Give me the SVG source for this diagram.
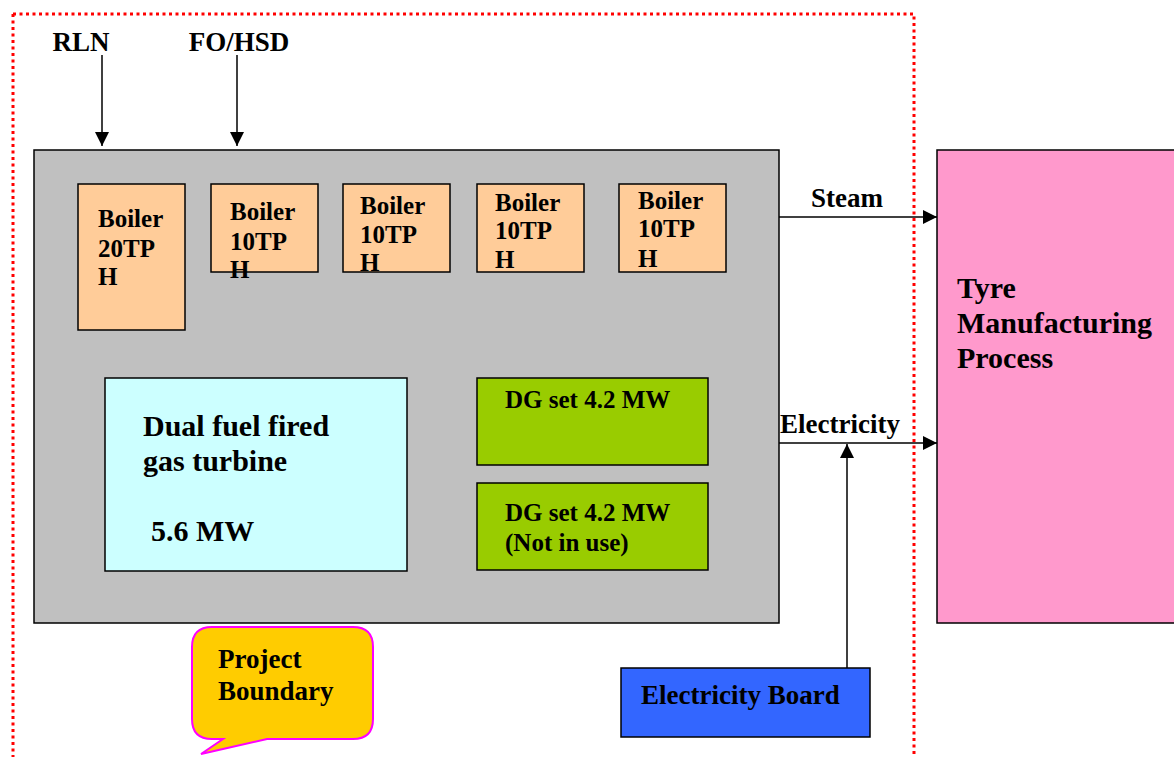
<svg xmlns="http://www.w3.org/2000/svg" width="1174" height="757" viewBox="0 0 1174 757">
<defs>
<style>
text{font-family:"Liberation Serif","Times New Roman",serif;font-weight:bold;fill:#000}
.box{stroke:#000;stroke-width:1.5}
.boiler{fill:#ffcc99}
.dg{fill:#99cc00}
.conn{stroke:#000;stroke-width:1.5;fill:none}
.t25{font-size:25px}
.t27{font-size:27px}
.t30{font-size:30px}
</style>
<marker id="ah" viewBox="0 0 10 10" refX="10" refY="5" markerWidth="14" markerHeight="14" markerUnits="userSpaceOnUse" orient="auto">
<path d="M0,0 L10,5 L0,10 Z" fill="#000"/>
</marker>
</defs>
<rect width="1174" height="757" fill="#fff"/>
<path d="M13,14 H914 V757 M13,14 V757" fill="none" stroke="#ff0000" stroke-width="3" stroke-dasharray="3 3.5"/>
<g id="plant">
<rect class="box" x="34" y="150" width="745" height="473" fill="#c0c0c0"/>
</g>
<g id="boiler1"><rect class="box boiler" x="78" y="184" width="107" height="146"/>
<text class="t25" x="98" y="227">Boiler</text><text class="t25" x="98" y="257">20TP</text><text class="t25" x="98" y="285">H</text></g>
<g id="boiler2"><rect class="box boiler" x="211" y="184" width="107" height="88"/>
<text class="t25" x="230" y="220">Boiler</text><text class="t25" x="230" y="250">10TP</text><text class="t25" x="230" y="278">H</text></g>
<g id="boiler3"><rect class="box boiler" x="343" y="184" width="107" height="88"/>
<text class="t25" x="360" y="214">Boiler</text><text class="t25" x="360" y="243">10TP</text><text class="t25" x="360" y="271">H</text></g>
<g id="boiler4"><rect class="box boiler" x="477" y="184" width="107" height="88"/>
<text class="t25" x="495" y="211">Boiler</text><text class="t25" x="495" y="239">10TP</text><text class="t25" x="495" y="268">H</text></g>
<g id="boiler5"><rect class="box boiler" x="619" y="184" width="107" height="88"/>
<text class="t25" x="638" y="209">Boiler</text><text class="t25" x="638" y="237">10TP</text><text class="t25" x="638" y="267">H</text></g>
<g id="gasturbine"><rect class="box" x="105" y="378" width="302" height="193" fill="#ccffff"/>
<text class="t30" x="143" y="436">Dual fuel fired</text><text class="t30" x="143" y="471">gas turbine</text><text class="t30" x="151" y="541">5.6 MW</text></g>
<g id="dg1"><rect class="box dg" x="477" y="378" width="231" height="87"/>
<text class="t25" x="505" y="408">DG set 4.2 MW</text></g>
<g id="dg2"><rect class="box dg" x="477" y="483" width="231" height="87"/>
<text class="t25" x="505" y="521">DG set 4.2 MW</text><text class="t25" x="505" y="551">(Not in use)</text></g>
<g id="tyre"><rect class="box" x="937" y="150" width="250" height="473" fill="#ff99cc"/>
<text class="t30" x="957" y="298">Tyre</text><text class="t30" x="957" y="333">Manufacturing</text><text class="t30" x="957" y="368">Process</text></g>
<g id="eboard"><rect class="box" x="621" y="668" width="249" height="69" fill="#3366ff"/>
<text class="t27" x="641" y="704">Electricity Board</text></g>
<g id="callout"><path d="M212,627 H353 Q373,627 373,647 V719 Q373,739 353,739 H267 L201,754 L223,739 H212 Q192,739 192,719 V647 Q192,627 212,627 Z" fill="#ffcc00" stroke="#ff00ff" stroke-width="2"/>
<text class="t27" x="218" y="668">Project</text><text class="t27" x="218" y="700">Boundary</text></g>
<g id="connectors">
<line class="conn" x1="102" y1="55" x2="102" y2="146" marker-end="url(#ah)"/>
<line class="conn" x1="237" y1="55" x2="237" y2="146" marker-end="url(#ah)"/>
<line class="conn" x1="779" y1="217" x2="937" y2="217" marker-end="url(#ah)"/>
<line class="conn" x1="779" y1="443" x2="937" y2="443" marker-end="url(#ah)"/>
<line class="conn" x1="847" y1="668" x2="847" y2="444" marker-end="url(#ah)"/>
<text class="t27" x="81" y="51" text-anchor="middle">RLN</text>
<text class="t27" x="239" y="51" text-anchor="middle">FO/HSD</text>
<text class="t27" x="811" y="207">Steam</text>
<text class="t27" x="780" y="433">Electricity</text>
</g>
</svg>
